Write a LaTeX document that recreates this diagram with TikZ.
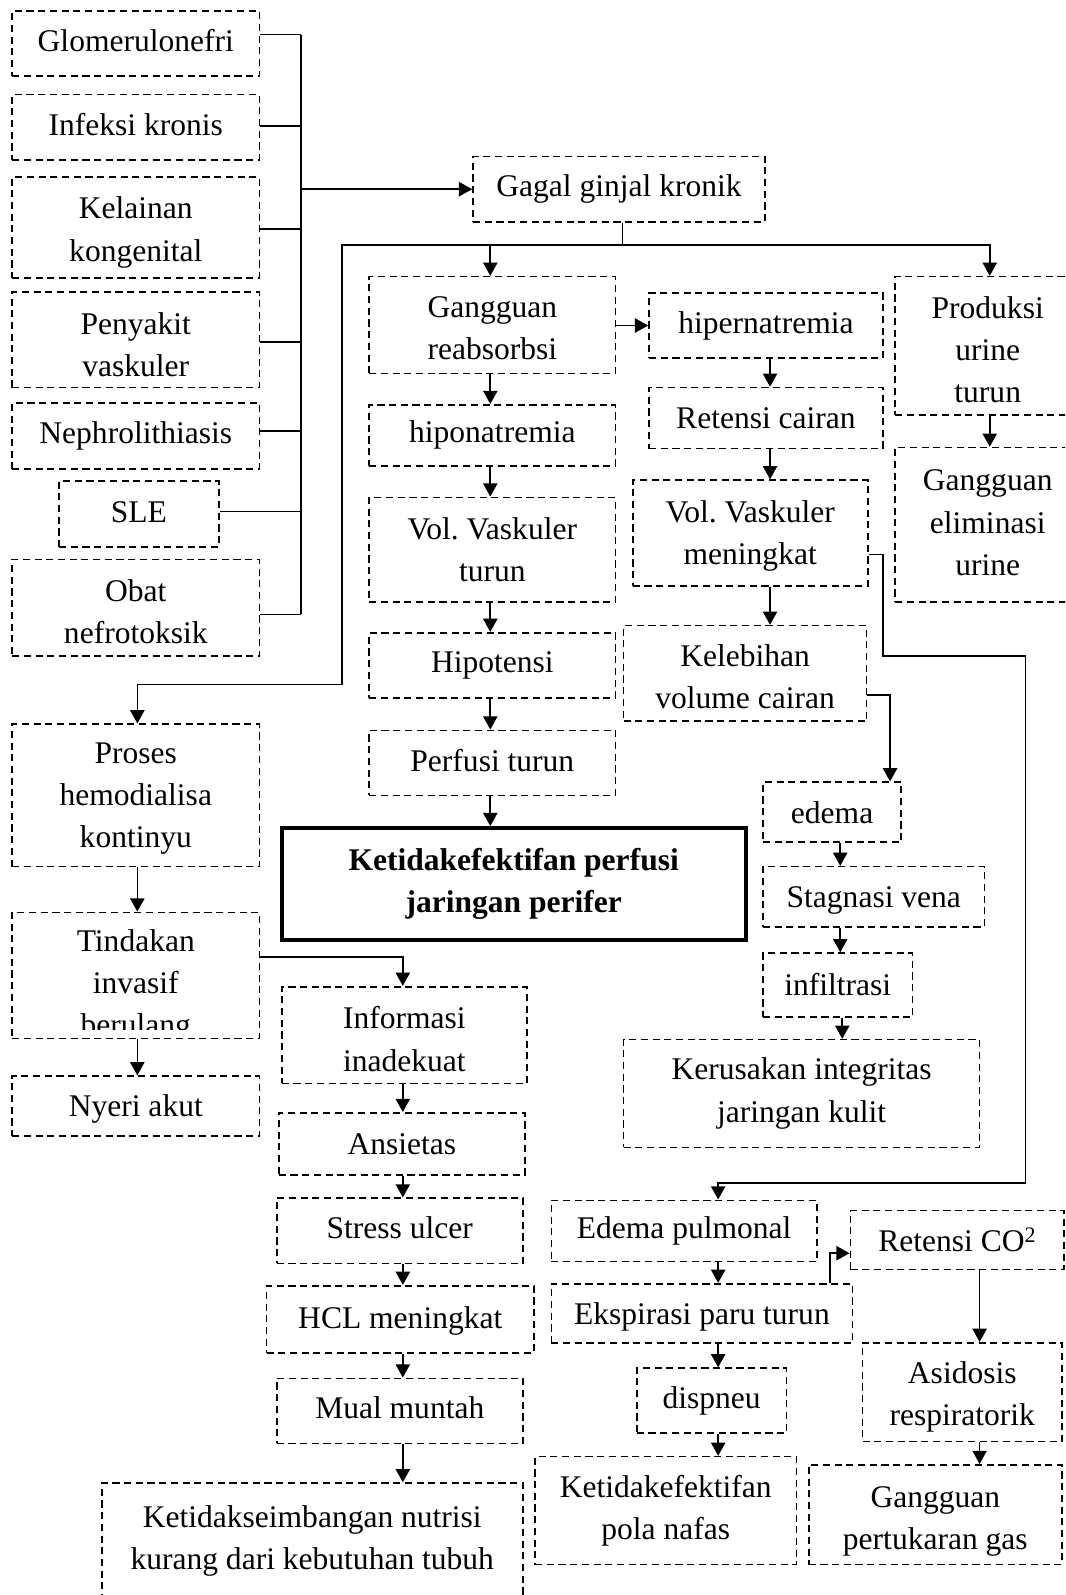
\documentclass[tikz,border=0pt]{standalone}
\usepackage{fontspec}
\setmainfont{Liberation Serif}
\usetikzlibrary{arrows.meta}
\frenchspacing
\newcommand\mybox[7][0]{%
  \node[box,minimum width={(#5)-(#3)},minimum height={(#6)-(#4)}] (#2) at ({((#3)+(#5))/2},{((#4)+(#6))/2}) {};
  \node[txt] (#2-t) at ([yshift={-(#1)*1pt}]#2.center) {#7};}
\begin{document}
\begin{tikzpicture}[x=1pt,y=-1pt,
  txt/.style={align=center, inner sep=0pt, font=\fontsize{31}{41.5}\selectfont},
  box/.style={draw, dash pattern=on 7pt off 4.5pt, line width=1.6pt, inner sep=0pt},
  conn/.style={line width=1.6pt},
  arr/.style={conn,-{Triangle[length=13pt,width=14pt]}},
  mainbox/.style={draw, line width=3.8pt, align=center, inner sep=0pt, font=\bfseries\fontsize{31}{41.5}\selectfont}
]
\useasboundingbox (0,0) rectangle (1047,1568);
\clip (0,0) rectangle (1047,1568);
\fill[white] (0,0) rectangle (1047,1568);

% causes
\mybox[-3]{glom}{12}{11}{255}{75}{Glomerulonefri}
\mybox[-3]{infek}{12}{93}{255}{157}{Infeksi kronis}
\mybox[5]{kel}{12}{174}{255}{273}{Kelainan\\kongenital}
\mybox[5]{peny}{12}{287}{255}{381}{Penyakit\\vaskuler}
\mybox{neph}{12}{396}{255}{461}{Nephrolithiasis}
\mybox[-2]{sle}{58}{473}{215}{538}{SLE}
\mybox[4]{obat}{12}{550}{255}{645}{Obat\\nefrotoksik}
\mybox{gagal}{465}{154}{752}{218}{Gagal ginjal kronik}

% middle column
\mybox[3]{gang}{363}{272}{605}{367}{Gangguan\\reabsorbsi}
\mybox{hipo}{363}{398}{605}{458}{hiponatremia}
\mybox{volt}{363}{489}{605}{592}{Vol. Vaskuler\\turun}
\mybox{hipot}{363}{622}{605}{686}{Hipotensi}
\mybox[-2]{perf}{363}{718}{605}{782}{Perfusi turun}
\node[mainbox, minimum width=456, minimum height=110] (ket) at (505,869) {Ketidakefektifan perfusi\\jaringan perifer};

% right-middle column
\mybox{hiper}{638}{288}{868}{352}{hipernatremia}
\mybox{ret}{638}{381}{868}{441}{Retensi cairan}
\mybox[3]{volm}{622}{472}{853}{576}{Vol. Vaskuler\\meningkat}
\mybox[3]{keleb}{613}{615}{852}{709}{Kelebihan\\volume cairan}
\mybox{edema}{750}{769}{886}{828}{edema}
\mybox[4]{stag}{750}{852}{968}{911}{Stagnasi vena}
\mybox[-1]{infil}{750}{937}{897}{1000}{infiltrasi}
\mybox{kerus}{613}{1022}{963}{1128}{Kerusakan integritas\\jaringan kulit}

% right column
\mybox[4]{prod}{880}{272}{1062}{408}{Produksi\\urine\\turun}
\mybox[-2]{elim}{880}{440}{1062}{592}{Gangguan\\eliminasi\\urine}

% lower left
\mybox[3]{proses}{12}{712}{255}{852}{Proses\\hemodialisa\\kontinyu}
\node[box,minimum width=243,minimum height=124] (tind) at (133.5,959) {};
\begin{scope}
  \clip (12,897) rectangle (255,1012);
  \node[txt] (tind-t) at (133.5,969) {Tindakan\\invasif\\berulang};
\end{scope}
\mybox[3]{nyeri}{12}{1058}{255}{1117}{Nyeri akut}
\mybox[4]{info}{277}{970}{518}{1065}{Informasi\\inadekuat}
\mybox{ansi}{274}{1094}{516}{1155}{Ansietas}
\mybox[-3]{stress}{272}{1178}{514}{1242}{Stress ulcer}
\mybox[2]{hcl}{262}{1264}{525}{1330}{HCL meningkat}
\mybox[-3]{mual}{272}{1355}{514}{1419}{Mual muntah}
\mybox[-15]{nutri}{100}{1458}{514}{1602}{Ketidakseimbangan nutrisi\\kurang dari kebutuhan tubuh}

% lower right
\mybox{edpul}{542}{1180}{803}{1240}{Edema pulmonal}
\mybox[4]{eksp}{542}{1262}{838}{1320}{Ekspirasi paru turun}
\mybox{retco}{836}{1190}{1046}{1248}{Retensi CO\textsuperscript{2}}
\mybox[5]{asid}{848}{1320}{1044}{1417}{Asidosis\\respiratorik}
\mybox[7]{gpg}{795}{1440}{1044}{1538}{Gangguan\\pertukaran gas}
\mybox{disp}{626}{1345}{773}{1409}{dispneu}
\mybox{pola}{526}{1432}{783}{1538}{Ketidakefektifan\\pola nafas}

% column coordinates
\coordinate (busT) at (296,34);
\coordinate (busB) at (296,604);
\coordinate (sp) at (612,241);
\coordinate (L1) at (336,241);
\coordinate (L2) at (336,673);
\coordinate (cM) at (482,0);
\coordinate (cR) at (757,0);
\coordinate (cU) at (973,0);
\coordinate (cL) at (135,0);
\coordinate (cB) at (396,0);
\coordinate (cE) at (826,0);
\coordinate (cK) at (828,0);
\coordinate (cP) at (706,0);
\coordinate (cC) at (963,0);
\coordinate (k1) at (875,683);
\coordinate (v1) at (868,545);
\coordinate (v2) at (868,645);
\coordinate (v3) at (1008,645);
\coordinate (v4) at (1008,1163);
\coordinate (t1) at (396,941);
\coordinate (e1) at (816,1232);

% bus of causes
\draw[conn] (busT) -- (busB);
\foreach \n/\y in {glom/34, infek/124, kel/225, peny/336, neph/424, sle/503, obat/604}
  \draw[conn] (\n.east |- 0,\y) -- (busT |- 0,\y);
\draw[arr] (busT |- gagal.west) -- (gagal.west);

% from Gagal ginjal kronik
\draw[conn] (gagal.south -| sp) -- (sp);
\draw[arr] (sp) -| (cU |- prod.north);
\draw[arr] (L1) -| (cM |- gang.north);
\draw[arr] (sp) -- (L1) -- (L2) -| (cL |- proses.north);

% middle chain
\draw[arr] (cM |- gang.south) -- (cM |- hipo.north);
\draw[arr] (cM |- hipo.south) -- (cM |- volt.north);
\draw[arr] (cM |- volt.south) -- (cM |- hipot.north);
\draw[arr] (cM |- hipot.south) -- (cM |- perf.north);
\draw[arr] (cM |- perf.south) -- (cM |- ket.north);

% right-middle chain
\draw[arr] (gang.east |- hiper.west) -- (hiper.west);
\draw[arr] (cR |- hiper.south) -- (cR |- ret.north);
\draw[arr] (cR |- ret.south) -- (cR |- volm.north);
\draw[arr] (cR |- volm.south) -- (cR |- keleb.north);
\draw[arr] (keleb.east |- k1) -- (k1) -- (k1 |- edema.north);
\draw[arr] (cE |- edema.south) -- (cE |- stag.north);
\draw[arr] (cE |- stag.south) -- (cE |- infil.north);
\draw[arr] (cK |- infil.south) -- (cK |- kerus.north);
\draw[arr] (volm.east |- v1) -- (v1) -- (v2) -- (v3) -- (v4) -| (cP |- edpul.north);

% right column
\draw[arr] (cU |- prod.south) -- (cU |- elim.north);

% lower left
\draw[arr] (cL |- proses.south) -- (cL |- tind.north);
\draw[arr] (cL |- tind.south) -- (cL |- nyeri.north);
\draw[arr] (tind.east |- t1) -- (t1) -- (t1 |- info.north);
\draw[arr] (cB |- info.south) -- (cB |- ansi.north);
\draw[arr] (cB |- ansi.south) -- (cB |- stress.north);
\draw[arr] (cB |- stress.south) -- (cB |- hcl.north);
\draw[arr] (cB |- hcl.south) -- (cB |- mual.north);
\draw[arr] (cB |- mual.south) -- (cB |- nutri.north);

% lower right
\draw[arr] (cP |- edpul.south) -- (cP |- eksp.north);
\draw[arr] (e1 |- eksp.north) -- (e1) -- (retco.west |- e1);
\draw[arr] (cC |- retco.south) -- (cC |- asid.north);
\draw[arr] (cC |- asid.south) -- (cC |- gpg.north);
\draw[arr] (cP |- eksp.south) -- (cP |- disp.north);
\draw[arr] (cP |- disp.south) -- (cP |- pola.north);
\end{tikzpicture}
\end{document}
